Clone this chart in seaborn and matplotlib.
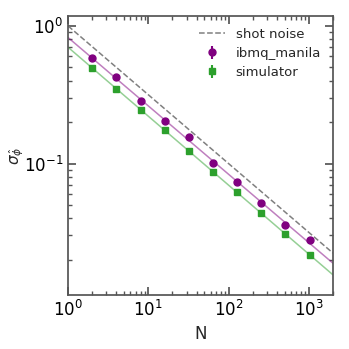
import numpy as np
import pandas as pd
import seaborn as sns
import matplotlib
matplotlib.use("Agg")
import matplotlib.pyplot as plt

N_values = [2, 4, 8, 16, 32, 64, 128, 256, 512, 1024]
ibmq_sigma = [0.58, 0.427, 0.287, 0.205, 0.155, 0.101, 0.0735, 0.0513, 0.0359, 0.0277]
sim_sigma = [0.496, 0.348, 0.244, 0.176, 0.124, 0.0865, 0.0625, 0.0436, 0.0308, 0.0215]
ibmq_err = [0.012, 0.009, 0.006, 0.004, 0.003, 0.002, 0.0015, 0.001, 0.0007, 0.0005]
sim_err = [0.010, 0.007, 0.005, 0.0035, 0.0025, 0.0017, 0.0012, 0.0009, 0.0006, 0.0004]

sns.set_theme(style="ticks")
plt.rcParams['font.family'] = ['DejaVu Sans']

fig = plt.figure(figsize=(3.49, 3.49), dpi=100)
ax = fig.add_axes([0.195, 0.155, 0.759, 0.799])

df = pd.DataFrame({"N": N_values, "ibmq": ibmq_sigma, "sim": sim_sigma})

Nline = np.logspace(0, np.log10(2000), 200)
# power-law fits in log space
pi = np.polyfit(np.log(N_values), np.log(ibmq_sigma), 1)
ps = np.polyfit(np.log(N_values), np.log(sim_sigma), 1)

ax.plot(Nline, 1 / np.sqrt(Nline), ls="--", color="gray", lw=1.1, label="shot noise")
sns.lineplot(x=Nline, y=np.exp(np.polyval(pi, np.log(Nline))), ax=ax, color="purple", alpha=0.5, lw=1.1)
sns.lineplot(x=Nline, y=np.exp(np.polyval(ps, np.log(Nline))), ax=ax, color="tab:green", alpha=0.5, lw=1.1)
ax.errorbar(df["N"], df["ibmq"], yerr=ibmq_err, fmt="o", color="purple", ms=5, label="ibmq_manila")
ax.errorbar(df["N"], df["sim"], yerr=sim_err, fmt="s", color="tab:green", ms=4.5, label="simulator")

ax.set_xscale("log")
ax.set_yscale("log")
ax.set_xlim(1, 2000)
ax.set_ylim(0.0111, 1.18)
ax.set_xlabel("N", fontsize=12)
ax.set_ylabel(r"$\sigma_{\hat{\phi}}$", fontsize=11)
ax.yaxis.set_label_coords(-0.16, 0.5)

for s in ax.spines.values():
    s.set_color("#555555")
ax.tick_params(which="both", direction="in", top=True, right=True, colors="#555555", labelcolor="black", labelsize=12)
ax.tick_params(which="major", length=6)
ax.tick_params(which="minor", length=3)

ax.legend(frameon=False, fontsize=9.5, loc="upper right", handlelength=2,
          bbox_to_anchor=(1.0, 1.0), labelspacing=0.45)

fig.savefig("out.png", dpi=100)
